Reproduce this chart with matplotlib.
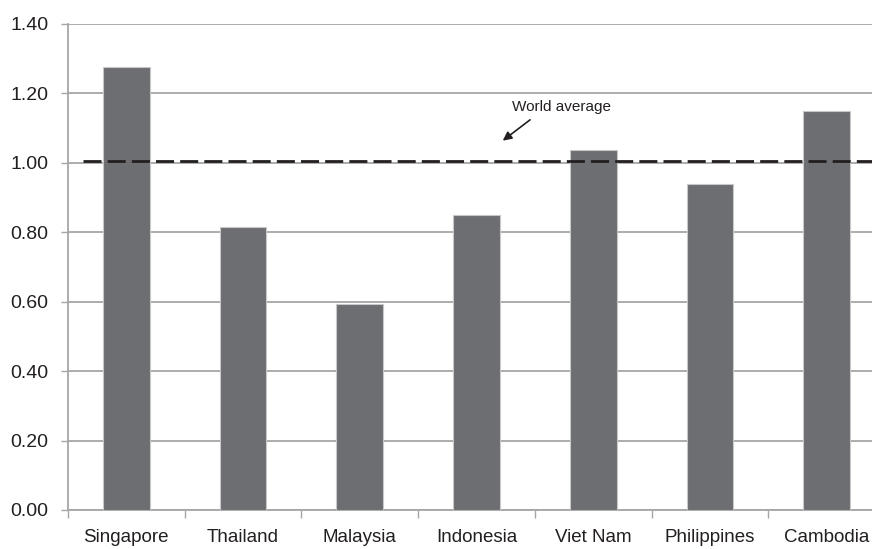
import matplotlib
matplotlib.use("Agg")
import matplotlib.pyplot as plt
from matplotlib.ticker import FixedLocator, FormatStrFormatter

countries = ["Singapore", "Thailand", "Malaysia", "Indonesia", "Viet Nam", "Philippines", "Cambodia"]
values = [1.275, 0.815, 0.593, 0.849, 1.038, 0.940, 1.148]
world_average = 1.006
y_ticks = [0.0, 0.2, 0.4, 0.6, 0.8, 1.0, 1.2, 1.4]

plt.rcParams["font.family"] = ["Liberation Sans", "DejaVu Sans"]

W, H = 872, 549
fig = plt.figure(figsize=(W / 100, H / 100), dpi=100)
ax = fig.add_axes([68 / W, (H - 510) / H, (885 - 68) / W, (510 - 24) / H])

grid_col = "#a6a6a6"
text_col = "#231f20"
x = list(range(len(countries)))
ax.bar(x, values, width=0.4, color="#6d6e71", edgecolor="#c8c8c8", linewidth=0.8, zorder=3)

ax.set_xlim(-0.5, len(countries) - 0.5)
ax.set_ylim(0, 1.4)
ax.set_yticks(y_ticks)
ax.yaxis.set_major_formatter(FormatStrFormatter("%.2f"))
ax.yaxis.grid(True, color=grid_col, linewidth=1.3, zorder=1)
ax.set_axisbelow(True)

ax.set_xticks(x)
ax.set_xticklabels(countries)
ax.xaxis.set_minor_locator(FixedLocator([i - 0.5 for i in range(len(countries) + 1)]))
ax.tick_params(axis="x", which="major", length=0, pad=14, labelsize=13.5, labelcolor=text_col)
ax.tick_params(axis="x", which="minor", length=6, width=1.0, color=grid_col)
ax.tick_params(axis="y", length=5, width=1.0, color=grid_col, pad=9, labelsize=14, labelcolor=text_col)

for side in ("top", "right"):
    ax.spines[side].set_visible(False)
for side in ("left", "bottom"):
    ax.spines[side].set_color(grid_col)
    ax.spines[side].set_linewidth(1.3)

# dashed world-average reference line
ax.axhline(world_average, xmin=0.018, xmax=1.0, color=text_col, linewidth=2.0,
           dashes=(6.5, 2.2), zorder=4)

ax.annotate("", xy=(3.225, 1.064), xytext=(3.459, 1.124), textcoords="data",
            arrowprops=dict(arrowstyle="-|>", color=text_col, lw=1.2, mutation_scale=13,
                            shrinkA=0, shrinkB=0))
ax.text(3.729, 1.162, "World average", ha="center", va="center", fontsize=11, color=text_col)

fig.savefig("out.png", dpi=100)
